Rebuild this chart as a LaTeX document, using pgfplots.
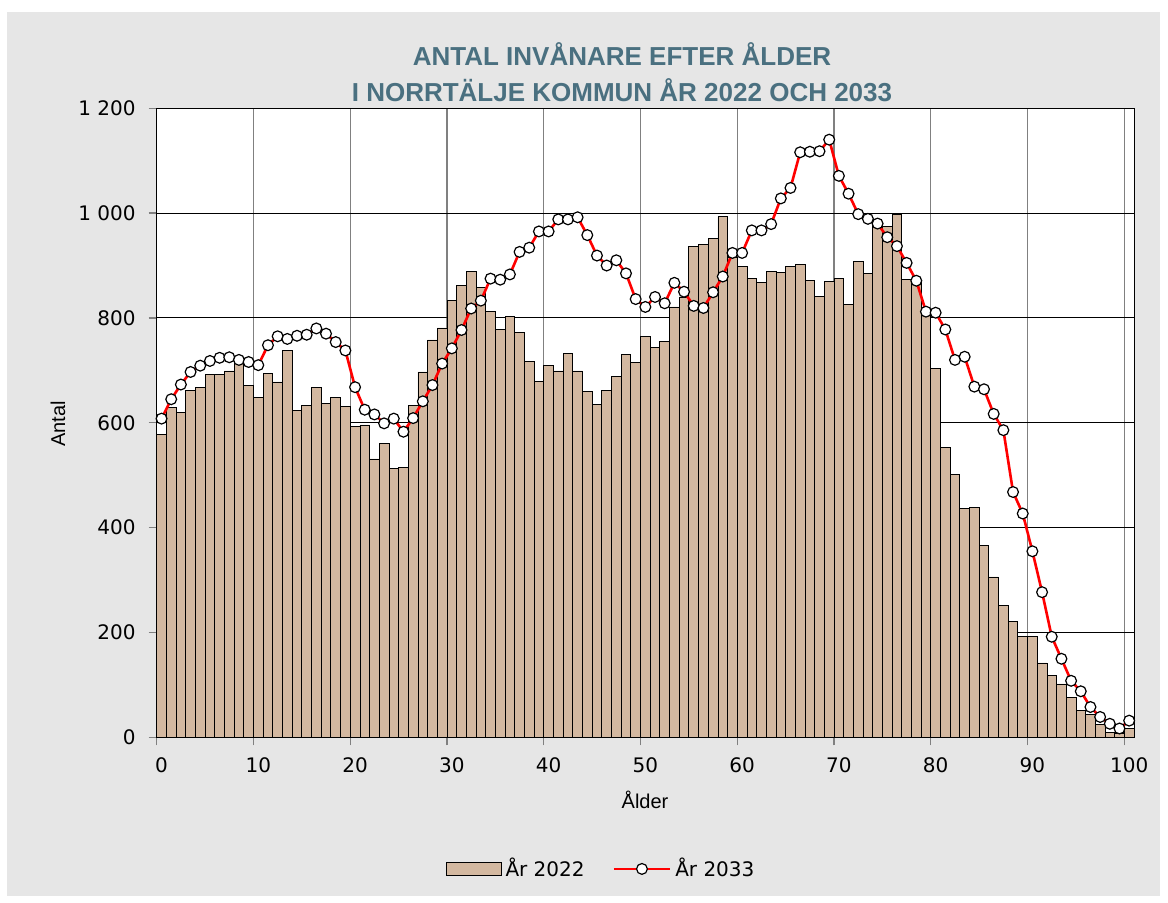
\documentclass[border=0pt]{standalone}
\usepackage{pgfplots}
\usepackage{pgfplotstable}
\pgfplotsset{compat=1.18}
\usepackage{fontspec}
\setmainfont{Liberation Sans}
\newfontfamily\dejavu{DejaVu Sans}
\definecolor{bggray}{RGB}{230,230,230}
\definecolor{bartan}{RGB}{211,184,160}
\definecolor{titleblue}{RGB}{74,112,128}
\definecolor{gridgray}{RGB}{128,128,128}

\pgfplotsset{
  mybarlegend/.style={legend image code/.code={\draw[##1] (0pt,-3.2pt) rectangle (27.5pt,3.2pt);}},
  mylinelegend/.style={legend image code/.code={\draw[mark repeat=2,mark phase=2,##1] plot coordinates {(0pt,0pt) (14pt,0pt) (28pt,0pt)};}},
}

\pgfplotstableread{
age a2022 a2033
0 577 608
1 630 645
2 619 673
3 661 697
4 667 709
5 692 718
6 692 724
7 699 725
8 713 720
9 672 716
10 649 710
11 695 748
12 678 765
13 738 760
14 624 766
15 633 768
16 667 780
17 637 770
18 648 754
19 632 738
20 593 668
21 596 625
22 531 616
23 561 599
24 513 608
25 515 583
26 633 609
27 697 641
28 758 672
29 781 713
30 834 742
31 862 777
32 888 818
33 858 833
34 813 875
35 778 873
36 803 883
37 772 926
38 717 934
39 679 965
40 709 965
41 699 988
42 733 988
43 699 992
44 660 958
45 635 919
46 662 900
47 689 910
48 730 885
49 715 836
50 765 821
51 744 840
52 756 828
53 821 867
54 840 850
55 936 823
56 940 819
57 952 849
58 993 879
59 915 924
60 899 924
61 876 967
62 868 967
63 889 979
64 887 1028
65 899 1048
66 902 1116
67 871 1117
68 841 1118
69 869 1140
70 876 1071
71 826 1037
72 908 998
73 885 989
74 977 980
75 975 954
76 998 937
77 874 905
78 870 871
79 815 812
80 704 810
81 553 778
82 501 720
83 437 726
84 438 669
85 366 664
86 306 617
87 252 586
88 221 468
89 192 427
90 192 355
91 142 277
92 119 192
93 102 150
94 77 108
95 51 88
96 44 58
97 25 39
98 9 26
99 8 17
100 17 32
}\datatable

\begin{document}
\begin{tikzpicture}
\fill[white] (0pt,0pt) rectangle (584pt,-451pt);
\fill[bggray] (3.5pt,-6pt) rectangle (580pt,-448pt);
\node[font=\bfseries\fontsize{13}{18}\selectfont, text=titleblue, align=center] at (311pt,-36pt)
  {ANTAL INVÅNARE EFTER ÅLDER\\I NORRTÄLJE KOMMUN ÅR 2022 OCH 2033};
\begin{axis}[
  at={(78.35pt,-368.7pt)}, anchor=south west,
  scale only axis, width=488.65pt, height=314.6pt,
  xmin=-0.5, xmax=100.5, ymin=0, ymax=1200,
  clip=false,
  axis background/.style={fill=white},
  axis line style={black, line width=0.5pt},
  tick pos=left,
  tick align=outside,
  major tick length=4pt,
  every tick/.style={gridgray, line width=0.6pt},
  xtick={-0.5,9.5,...,99.5},
  xticklabels={},
  extra x ticks={0,10,...,100},
  extra x tick style={major tick length=0pt, grid=none},
  ytick={0,200,...,1200},
  yticklabels={0,200,400,600,800,1 000,1 200},
  xmajorgrids, ymajorgrids,
  x grid style={gridgray, line width=0.6pt},
  y grid style={black, line width=0.5pt},
  /pgf/number format/assume math mode=true,
  ticklabel style={font=\dejavu\fontsize{10}{12}\selectfont},
  xticklabel style={yshift=-6.5pt},
  yticklabel style={xshift=-3pt},
  xlabel={Ålder}, ylabel={Antal},
  label style={font=\fontsize{10.5}{12}\selectfont},
  every axis x label/.style={at={(axis description cs:0.4997,-0.0995)}, anchor=center},
  every axis y label/.style={at={(axis description cs:-0.101,0.498)}, anchor=center, rotate=90},
  legend style={at={(axis description cs:0.4557,-0.209)}, anchor=center, draw=none, fill=none,
    legend columns=2, font=\dejavu\fontsize{10}{12}\selectfont,
    /tikz/every even column/.append style={column sep=12pt}},
]
\addplot[ybar, bar width=1, fill=bartan, draw=black, line width=0.4pt, mybarlegend]
  table[x=age,y=a2022] {\datatable};
\addlegendentry{År 2022}
\addplot[red, line width=1.3pt, mark=*, mark size=2.7pt,
  mark options={fill=white, draw=black, line width=0.6pt}, mylinelegend]
  table[x=age,y=a2033] {\datatable};
\addlegendentry{År 2033}
\end{axis}
\end{tikzpicture}
\end{document}
